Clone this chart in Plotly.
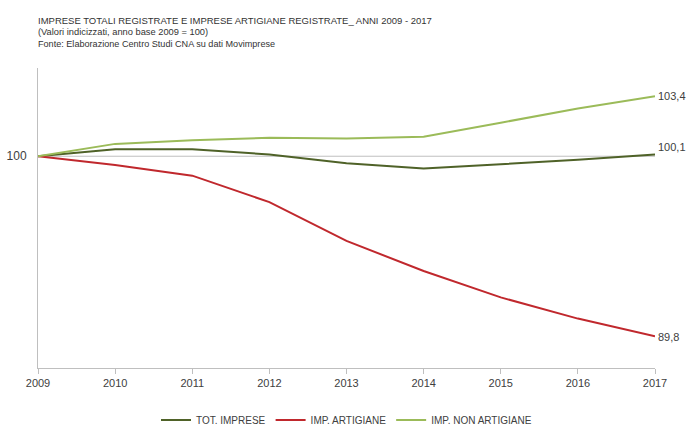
import plotly.graph_objects as go

years = [2009, 2010, 2011, 2012, 2013, 2014, 2015, 2016, 2017]
tot_imprese = [100.0, 100.4, 100.4, 100.1, 99.6, 99.3, 99.55, 99.8, 100.1]
imp_artigiane = [100.0, 99.5, 98.9, 97.4, 95.2, 93.5, 92.0, 90.8, 89.8]
imp_non_artigiane = [100.0, 100.7, 100.9, 101.05, 101.0, 101.1, 101.9, 102.7, 103.4]

series = [
    ("TOT. IMPRESE", tot_imprese, "#4F6228", 7),
    ("IMP. ARTIGIANE", imp_artigiane, "#C0282D", -1),
    ("IMP. NON ARTIGIANE", imp_non_artigiane, "#9BBB59", 0),
]

FONT = "Liberation Sans"
fig = go.Figure()
for name, vals, col, _ in series:
    fig.add_trace(go.Scatter(x=years, y=vals, mode="lines", name=name,
                             line=dict(color=col, width=2)))

for name, vals, col, ys in series:
    fig.add_annotation(x=years[-1], y=vals[-1], text=f"{vals[-1]:.1f}".replace(".", ","),
                       xanchor="left", yanchor="middle", xshift=1, yshift=ys,
                       showarrow=False, font=dict(family=FONT, size=11, color="#404040"))

fig.add_hline(y=100, line=dict(color="#BFBFBF", width=1), layer="below")

fig.update_layout(
    width=696, height=437,
    margin=dict(l=38, r=41, t=68, b=69, autoexpand=False),
    plot_bgcolor="white", paper_bgcolor="white",
    font=dict(family=FONT, color="#404040"),
    showlegend=True,
    legend=dict(orientation="h", x=0.5, xanchor="center",
                yref="container", y=1 - 420 / 437, yanchor="middle",
                font=dict(size=10, color="#404040"), itemwidth=30, tracegroupgap=0),
    xaxis=dict(range=[2009, 2017], tickvals=years, ticktext=[str(y) for y in years],
               showgrid=False, showline=True, linecolor="#BFBFBF", linewidth=1,
               ticks="outside", tickcolor="#BFBFBF", ticklen=5, automargin=False,
               tickfont=dict(size=11, color="#404040"), zeroline=False),
    yaxis=dict(range=[88, 105], tickvals=[100], ticktext=["100"], showgrid=False,
               showline=True, linecolor="#BFBFBF", linewidth=1, ticks="",
               ticklabelstandoff=8, automargin=False,
               tickfont=dict(size=12, color="#404040"), zeroline=False),
)

left = -2 / 617
fig.add_annotation(xref="paper", yref="paper", x=left, y=1 + (68 - 20) / 300,
                   xanchor="left", yanchor="middle", showarrow=False,
                   text="IMPRESE TOTALI REGISTRATE E IMPRESE ARTIGIANE REGISTRATE_ ANNI 2009 - 2017",
                   font=dict(family=FONT, size=9.5, color="#333333"))
fig.add_annotation(xref="paper", yref="paper", x=left, y=1 + (68 - 32) / 300,
                   xanchor="left", yanchor="middle", showarrow=False,
                   text="(Valori indicizzati, anno base 2009 = 100)",
                   font=dict(family=FONT, size=9.3, color="#333333"))
fig.add_annotation(xref="paper", yref="paper", x=left, y=1 + (68 - 44) / 300,
                   xanchor="left", yanchor="middle", showarrow=False,
                   text="Fonte: Elaborazione Centro Studi CNA su dati Movimprese",
                   font=dict(family=FONT, size=9.1, color="#333333"))

fig.write_html("out.html")
